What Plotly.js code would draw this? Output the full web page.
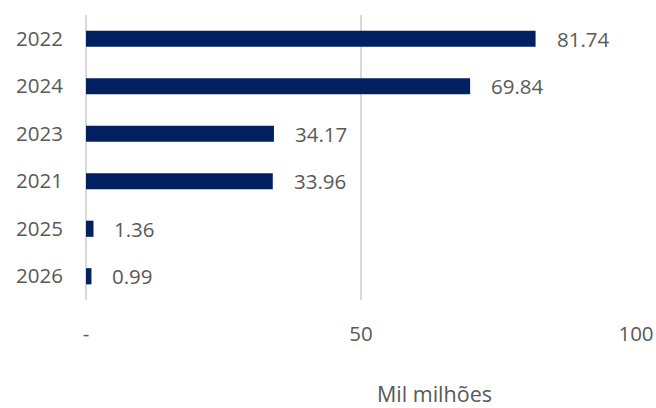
<!DOCTYPE html>
<html>
<head>
<meta charset="utf-8">
<script src="https://cdn.plot.ly/plotly-3.0.1.min.js"></script>
<style>html,body{margin:0;padding:0;background:#fff}#chart{width:656px;height:408px}</style>
</head>
<body>
<div id="chart"></div>
<script>
var categories = ["2022", "2024", "2023", "2021", "2025", "2026"];
var values = [81.74, 69.84, 34.17, 33.96, 1.36, 0.99];
var xTickVals = [0, 50, 100];
var xTickText = ["-", "50", "100"];
var xTitle = "Mil milhões";

var font = "'Open Sans', sans-serif";
var textColor = "#595959";
var fs = 20.5;

var idx = categories.map(function (c, i) { return i; });

var trace = {
  type: "bar",
  orientation: "h",
  x: values,
  y: idx,
  marker: {color: "#002060"},
  hoverinfo: "none"
};

var annotations = values.map(function (v, i) {
  return {
    x: v, y: idx[i], xref: "x", yref: "y",
    text: v.toFixed(2), showarrow: false,
    xanchor: "left", yanchor: "middle", xshift: 19,
    font: {family: font, size: fs, color: textColor}
  };
});
annotations.push({
  xref: "paper", yref: "paper", x: 0.634, y: 0, yshift: -93,
  text: xTitle, showarrow: false, xanchor: "center", yanchor: "middle",
  font: {family: font, size: 21.5, color: textColor}
});

var layout = {
  width: 656, height: 408,
  margin: {l: 86, r: 20, t: 15, b: 108},
  paper_bgcolor: "#fff", plot_bgcolor: "#fff",
  showlegend: false,
  bargap: 0.66,
  font: {family: font, size: fs, color: textColor},
  xaxis: {
    range: [0, 100],
    tickvals: xTickVals, ticktext: xTickText,
    showgrid: true, gridcolor: "#d9d9d9", gridwidth: 1.5,
    zeroline: true, zerolinecolor: "#d9d9d9", zerolinewidth: 2,
    showline: false, ticks: "",
    ticklabelstandoff: 19,
    tickfont: {family: font, size: fs, color: textColor},
    fixedrange: true
  },
  yaxis: {
    range: [categories.length - 0.5, -0.5],
    tickmode: "array", tickvals: idx, ticktext: categories,
    showgrid: false, zeroline: false, showline: false, ticks: "",
    ticklabelstandoff: 22,
    tickfont: {family: font, size: fs, color: textColor},
    fixedrange: true
  },
  annotations: annotations
};

Plotly.newPlot("chart", [trace], layout, {displayModeBar: false, staticPlot: true});
</script>
</body>
</html>
